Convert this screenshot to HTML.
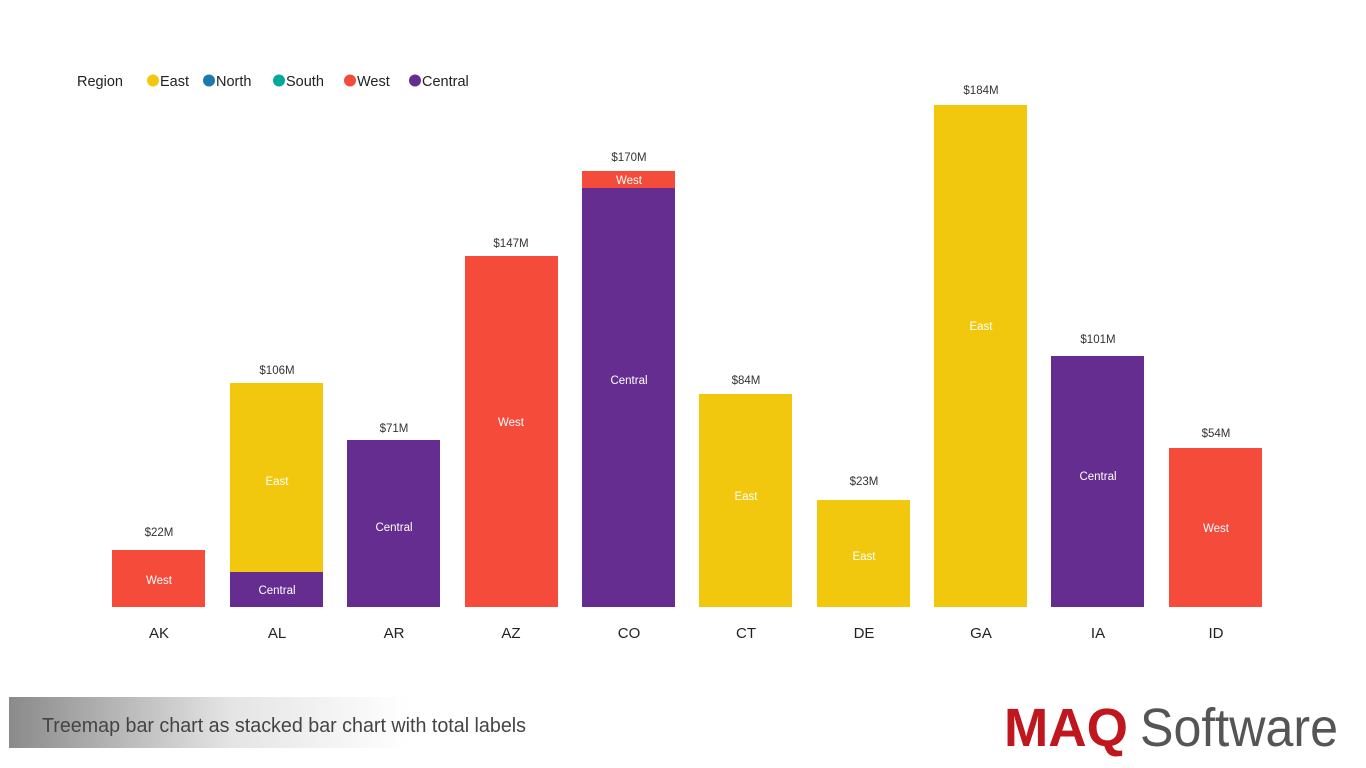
<!DOCTYPE html>
<html><head><meta charset="utf-8"><style>
html,body{margin:0;padding:0;background:#fff;width:1366px;height:768px;overflow:hidden}
svg{display:block}
</style></head><body>
<svg width="1366" height="768" xmlns="http://www.w3.org/2000/svg" font-family="'Segoe UI','Liberation Sans',sans-serif">
<defs><linearGradient id="g" x1="0" x2="1" y1="0" y2="0"><stop offset="0" stop-color="#8a8a8a"/><stop offset="0.55" stop-color="#e4e4e4"/><stop offset="1" stop-color="#fff"/></linearGradient></defs>
<g font-size="14.5" fill="#222">
<text x="77" y="86">Region</text>
<circle cx="153" cy="80.5" r="6" fill="#F2C80F"/><text x="160" y="86">East</text>
<circle cx="209" cy="80.5" r="6" fill="#1A7AAB"/><text x="216" y="86">North</text>
<circle cx="279" cy="80.5" r="6" fill="#01A89E"/><text x="286" y="86">South</text>
<circle cx="350" cy="80.5" r="6" fill="#F44B3A"/><text x="357" y="86">West</text>
<circle cx="415" cy="80.5" r="6" fill="#652D90"/><text x="422" y="86">Central</text>
</g>
<g>
<rect x="112" y="550" width="93" height="57" fill="#F44B3A"/>
<rect x="230" y="383" width="93" height="189" fill="#F2C80F"/>
<rect x="230" y="572" width="93" height="35" fill="#652D90"/>
<rect x="347" y="440" width="93" height="167" fill="#652D90"/>
<rect x="465" y="256" width="93" height="351" fill="#F44B3A"/>
<rect x="582" y="171" width="93" height="17" fill="#F44B3A"/>
<rect x="582" y="188" width="93" height="419" fill="#652D90"/>
<rect x="699" y="394" width="93" height="213" fill="#F2C80F"/>
<rect x="817" y="500" width="93" height="107" fill="#F2C80F"/>
<rect x="934" y="105" width="93" height="502" fill="#F2C80F"/>
<rect x="1051" y="356" width="93" height="251" fill="#652D90"/>
<rect x="1169" y="448" width="93" height="159" fill="#F44B3A"/>
</g>
<g font-size="11.5" fill="#fff" text-anchor="middle">
<text x="159" y="584">West</text>
<text x="277" y="485">East</text>
<text x="277" y="594">Central</text>
<text x="394" y="531">Central</text>
<text x="511" y="426">West</text>
<text x="629" y="184">West</text>
<text x="629" y="384">Central</text>
<text x="746" y="500">East</text>
<text x="864" y="560">East</text>
<text x="981" y="330">East</text>
<text x="1098" y="480">Central</text>
<text x="1216" y="532">West</text>
</g>
<g font-size="11.5" fill="#333" text-anchor="middle">
<text x="159" y="536">$22M</text>
<text x="277" y="374">$106M</text>
<text x="394" y="432">$71M</text>
<text x="511" y="247">$147M</text>
<text x="629" y="161">$170M</text>
<text x="746" y="384">$84M</text>
<text x="864" y="485">$23M</text>
<text x="981" y="94">$184M</text>
<text x="1098" y="343">$101M</text>
<text x="1216" y="437">$54M</text>
</g>
<g font-size="15" fill="#222" text-anchor="middle">
<text x="159" y="638">AK</text><text x="277" y="638">AL</text><text x="394" y="638">AR</text>
<text x="511" y="638">AZ</text><text x="629" y="638">CO</text><text x="746" y="638">CT</text>
<text x="864" y="638">DE</text><text x="981" y="638">GA</text><text x="1098" y="638">IA</text>
<text x="1216" y="638">ID</text>
</g>
<rect x="9" y="697" width="400" height="51" fill="url(#g)"/>
<text x="42" y="732" font-size="20" fill="#444" font-weight="300" textLength="484" lengthAdjust="spacingAndGlyphs">Treemap bar chart as stacked bar chart with total labels</text>
<text x="1004" y="746" font-size="54" fill="#C0161D" font-weight="bold" textLength="124" lengthAdjust="spacingAndGlyphs">MAQ</text>
<text x="1140" y="746" font-size="54" fill="#555" textLength="198" lengthAdjust="spacingAndGlyphs">Software</text>
</svg>
</body></html>
